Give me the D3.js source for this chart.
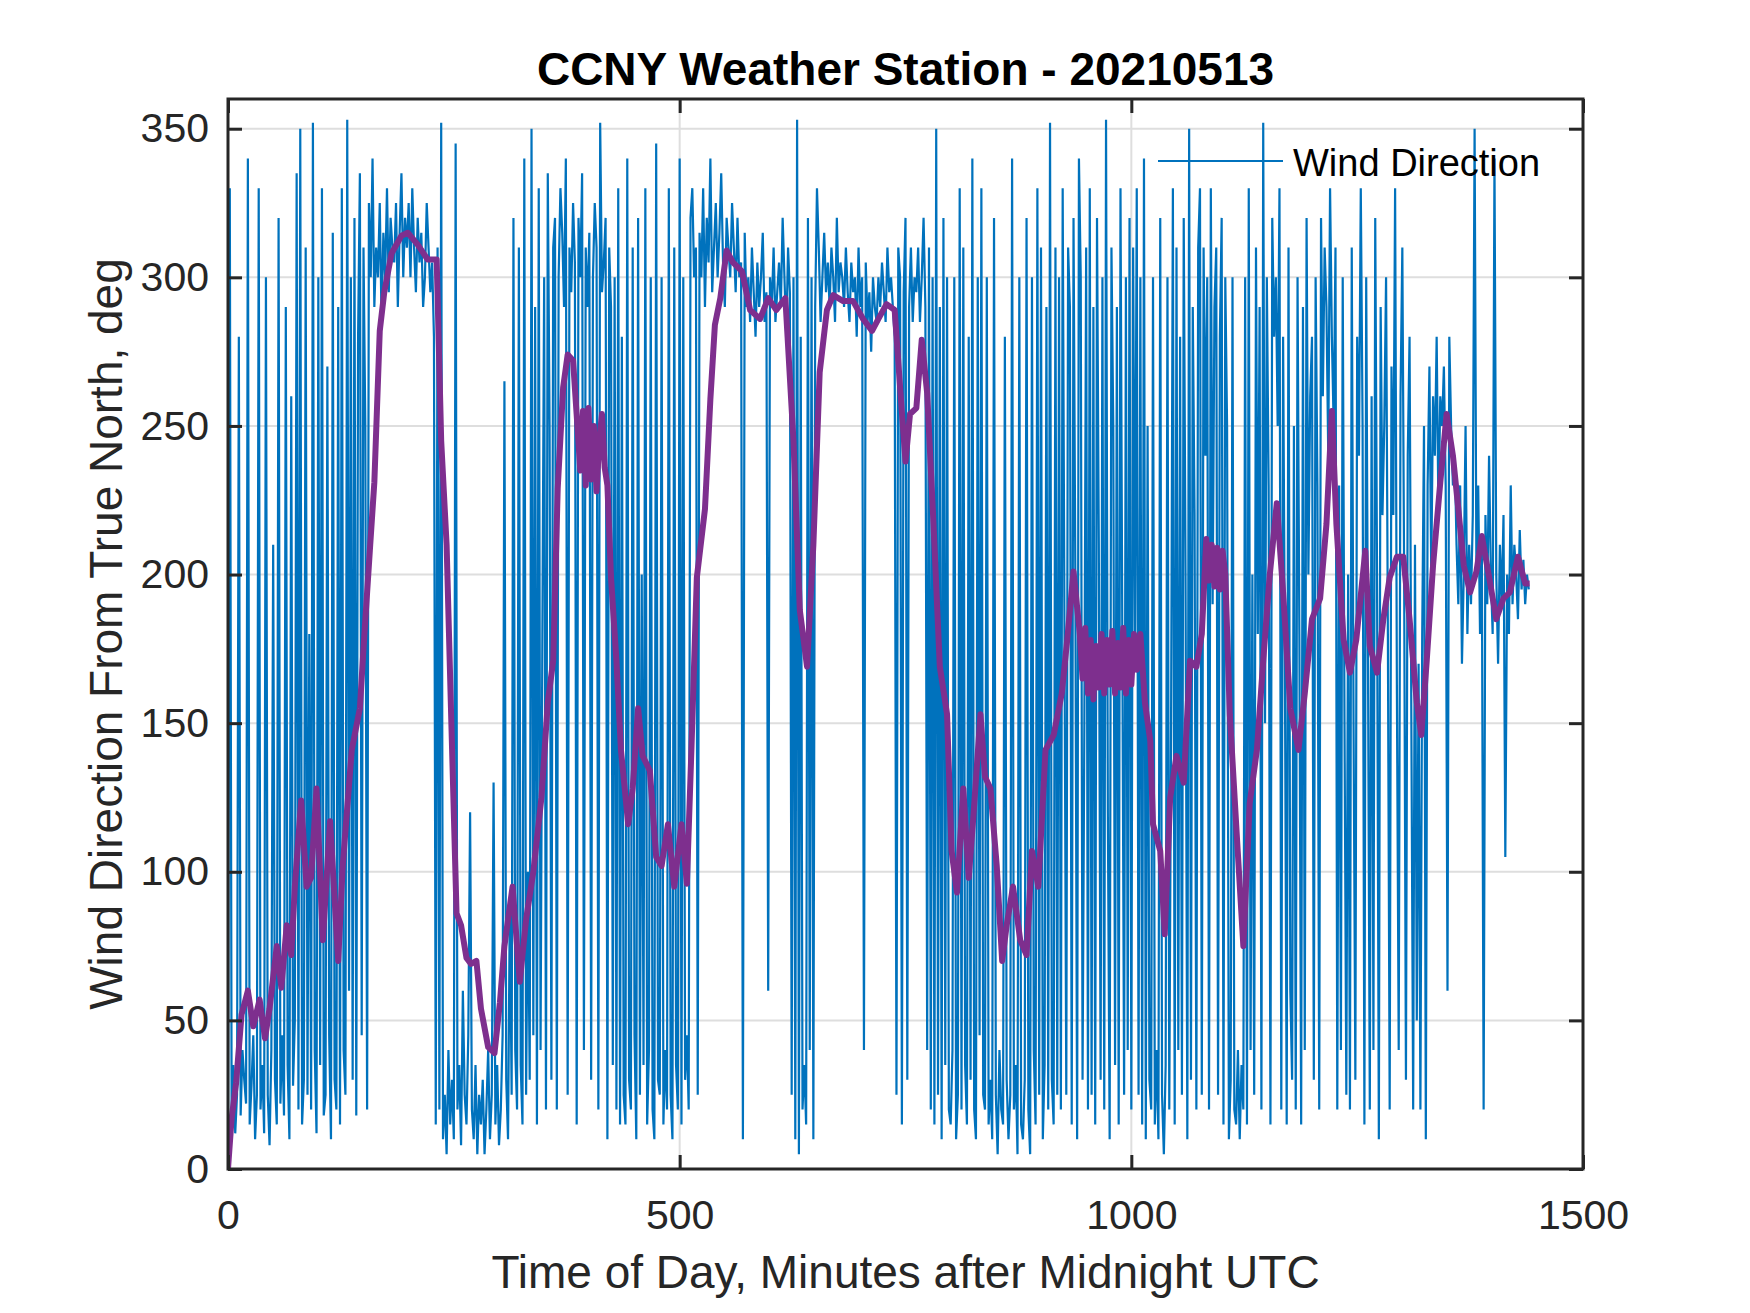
<!DOCTYPE html>
<html lang="en">

<head>
    <meta charset="UTF-8">
    <title>CCNY Weather Station - 20210513</title>
    <style>
        body { margin: 0; background: #fff; }
        text { font-family: "Liberation Sans", Arial, Helvetica, sans-serif; }
    </style>
</head>

<body>
    <script type='text/javascript' src='https://d3js.org/d3.v7.min.js'></script>
    <script>
        // wind direction, one reading every 2 minutes, 0..1440
        var minuteStep = 2;
        var windDir = [
            5, 330, 20, 35, 12, 25, 280, 18, 40, 30, 22, 340, 15, 28, 45, 10, 25, 330, 20, 35,
            12, 300, 25, 8, 40, 210, 30, 15, 320, 22, 45, 18, 290, 35, 10, 260, 28, 50, 335, 20,
            350, 15, 30, 310, 25, 180, 20, 352, 40, 12, 300, 35, 330, 18, 25, 270, 45, 10, 315, 30,
            20, 290, 15, 330, 40, 25, 353, 60, 300, 30, 320, 18, 280, 335, 45, 310, 250, 20, 325, 300,
            340, 290, 310, 300, 325, 285, 315, 300, 330, 295, 320, 310, 305, 325, 290, 315, 335, 300, 320, 310,
            325, 300, 330, 310, 295, 320, 305, 315, 290, 300, 325, 310, 295, 305, 280, 15, 310, 20, 352, 10,
            25, 5, 40, 15, 30, 10, 345, 20, 35, 8, 60, 25, 15, 45, 120, 20, 10, 35, 5, 25,
            15, 30, 5, 20, 40, 10, 25, 130, 15, 35, 8, 20, 45, 265, 30, 10, 90, 25, 320, 40,
            20, 310, 35, 15, 340, 25, 100, 30, 350, 45, 290, 15, 330, 40, 180, 300, 20, 335, 250, 30,
            310, 320, 20, 300, 330, 315, 290, 340, 25, 310, 295, 325, 305, 15, 320, 300, 335, 40, 310, 290,
            315, 30, 300, 325, 310, 20, 352, 295, 305, 320, 10, 310, 290, 35, 300, 20, 330, 15, 280, 25,
            15, 340, 30, 20, 310, 45, 10, 320, 25, 200, 35, 330, 15, 40, 300, 20, 10, 345, 30, 25,
            300, 15, 40, 20, 330, 25, 10, 310, 35, 20, 340, 15, 300, 30, 45, 20, 320, 330, 300, 310,
            25, 315, 300, 330, 290, 320, 305, 340, 295, 310, 325, 300, 315, 335, 305, 290, 320, 310, 300, 325,
            310, 295, 320, 300, 305, 10, 315, 290, 300, 285, 310, 295, 280, 305, 290, 300, 315, 285, 295, 60,
            300, 290, 310, 285, 295, 305, 290, 320, 300, 280, 310, 295, 25, 300, 10, 353, 5, 280, 20, 35,
            15, 320, 40, 300, 10, 290, 330, 310, 285, 300, 315, 295, 305, 290, 310, 300, 285, 320, 295, 305,
            300, 290, 310, 295, 285, 305, 295, 300, 280, 310, 290, 300, 40, 305, 285, 295, 275, 300, 290, 285,
            300, 290, 305, 295, 285, 310, 295, 300, 290, 280, 25, 310, 300, 15, 295, 320, 30, 290, 310, 285,
            300, 295, 310, 285, 300, 320, 290, 40, 310, 20, 300, 15, 350, 25, 290, 10, 320, 35, 300, 20,
            15, 40, 300, 10, 25, 330, 20, 310, 35, 15, 280, 30, 340, 20, 10, 300, 45, 330, 25, 20,
            300, 15, 30, 10, 320, 25, 5, 40, 20, 15, 280, 30, 10, 25, 340, 20, 35, 5, 300, 15,
            10, 30, 320, 20, 5, 300, 40, 15, 330, 25, 310, 10, 35, 290, 20, 352, 30, 15, 310, 25,
            300, 20, 330, 180, 25, 310, 290, 15, 320, 200, 10, 340, 300, 30, 150, 310, 20, 330, 25, 290,
            15, 320, 210, 30, 300, 20, 353, 120, 10, 310, 250, 35, 290, 15, 330, 180, 25, 300, 40, 320,
            20, 310, 180, 330, 25, 300, 15, 340, 10, 250, 30, 20, 300, 15, 40, 10, 320, 25, 5, 35,
            300, 20, 150, 330, 15, 310, 40, 280, 25, 320, 200, 10, 350, 30, 290, 220, 20, 310, 330, 25,
            310, 240, 300, 20, 330, 190, 290, 310, 25, 280, 320, 15, 300, 250, 10, 30, 300, 20, 15, 40,
            10, 35, 20, 300, 15, 330, 40, 200, 25, 310, 180, 290, 20, 352, 150, 300, 230, 15, 320, 280,
            300, 250, 330, 20, 280, 170, 15, 310, 60, 30, 250, 20, 300, 180, 15, 290, 40, 320, 200, 260,
            280, 30, 300, 230, 20, 320, 260, 310, 290, 240, 330, 280, 250, 310, 20, 230, 40, 300, 150, 25,
            200, 20, 310, 150, 30, 280, 240, 330, 250, 15, 300, 170, 20, 260, 40, 320, 200, 10, 290, 220,
            250, 300, 180, 20, 270, 220, 330, 160, 40, 260, 310, 200, 30, 240, 280, 150, 20, 210, 50, 170,
            20, 180, 250, 10, 230, 270, 200, 260, 240, 280, 220, 260, 250, 270, 230, 60, 280, 250, 230, 240,
            210, 190, 230, 170, 200, 250, 180, 210, 190, 220, 350, 200, 230, 180, 210, 20, 220, 190, 240, 200,
            180, 340, 200, 170, 210, 190, 220, 105, 200, 180, 230, 190, 210, 200, 185, 215, 195, 205, 190, 200,
            195
        ];
        // smoothed direction (purple)
        var avgMinutes = [0, 4, 9, 15, 22, 28, 35, 41, 46, 54, 59, 65, 70, 74, 81, 87, 92, 98, 105, 113, 122, 127, 137, 146, 151, 157, 162, 168, 173, 181, 192, 199, 210, 221, 231, 236, 242, 247, 253, 258, 264, 269, 275, 280, 288, 295, 301, 306, 315, 323, 330, 338, 347, 354, 360, 365, 371, 376, 382,
            387, 390, 393, 396, 399, 402, 405, 408, 411, 414, 417, 420,
            424, 430, 435, 443, 448, 454, 459, 467, 474, 480, 487, 494, 502, 508, 513, 519, 528, 534, 539, 545, 552, 559, 569, 578, 589, 598, 607, 617, 626, 633, 641, 648, 655, 663, 670, 681, 692, 703, 713, 720, 729, 738, 744, 750, 755, 762, 768, 774, 781, 788, 796, 801, 807, 814, 820, 825, 833, 838, 844, 851, 857, 862, 869, 877, 884, 890, 897, 905, 914, 923, 929, 936,
            943, 946, 949, 952, 955, 958, 961, 964, 967, 970, 973, 976, 979, 982, 985, 988, 991, 994, 997, 1000, 1003, 1006,
            1010, 1015, 1021, 1024, 1032, 1037, 1043, 1050, 1058, 1065, 1072, 1078,
            1083, 1086, 1089, 1092, 1095, 1098, 1101, 1104,
            1109, 1117, 1124, 1131, 1139, 1146, 1153, 1161, 1168, 1176, 1185, 1192, 1200, 1209, 1216, 1222, 1227, 1235, 1242, 1249, 1259, 1264, 1272, 1279, 1286, 1294, 1301, 1308, 1316, 1321, 1327, 1334, 1342, 1349, 1356, 1362, 1368, 1375, 1382, 1388, 1395, 1404, 1412, 1419, 1428, 1436, 1441];
        var avgDir = [0, 17, 29, 52, 60, 48, 57, 44, 54, 75, 61, 82, 72, 95, 124, 95, 98, 128, 77, 117, 70, 102, 141, 155, 180, 208, 231, 282, 295, 308, 314, 315, 311, 306, 306, 245, 210, 153, 86, 82, 71, 69, 70, 54, 41, 39, 56, 75, 95, 63, 84, 100, 125, 157, 171, 229, 263, 274, 272,
            249, 235, 255, 230, 256, 232, 250, 228, 245, 254, 236, 230,
            199, 171, 141, 116, 128, 155, 139, 134, 105, 102, 116, 95, 116, 96, 141, 199, 222, 259, 284, 293, 309, 305, 302, 289, 286, 293, 289, 293, 245, 188, 169, 210, 268, 289, 294, 292, 292, 286, 282, 286, 291, 289, 263, 238, 254, 256, 279, 261, 217, 169, 153, 107, 93, 128, 98, 118, 153, 132, 128, 102, 70, 82, 95, 77, 72, 107, 95, 141, 146, 160, 178, 201,
            180, 165, 182, 160, 178, 158, 176, 162, 180, 160, 178, 163, 181, 160, 177, 162, 182, 160, 178, 163, 180, 168,
            180, 157, 144, 116, 107, 79, 125, 139, 130, 171, 169, 180,
            212, 198, 210, 196, 209, 195, 208, 200,
            153, 111, 75, 123, 141, 171, 199, 224, 194, 155, 141, 160, 185, 192, 217, 255, 217, 178, 167, 178, 208, 176, 167, 185, 199, 206, 206, 185, 157, 146, 171, 203, 231, 254, 240, 222, 203, 194, 201, 213, 201, 185, 192, 194, 206, 197, 197];

        var xTicks = [0, 500, 1000, 1500];
        var yTicks = [0, 50, 100, 150, 200, 250, 300, 350];

        const width = 1750;
        const height = 1313;
        const plot = { left: 228, right: 1583, top: 99, bottom: 1169 };
        const ink = "#262626";

        const svg = d3.select("body")
            .append("svg")
            .attr("width", width)
            .attr("height", height);

        var x = d3.scaleLinear().domain([0, 1500]).range([plot.left, plot.right]);
        var y = d3.scaleLinear().domain([0, 360]).range([plot.bottom, plot.top]);

        svg.append("clipPath").attr("id", "clip")
            .append("rect")
            .attr("x", plot.left).attr("y", plot.top)
            .attr("width", plot.right - plot.left).attr("height", plot.bottom - plot.top);

        // grid
        var grid = svg.append("g");
        grid.selectAll(".gx").data(xTicks.slice(1, -1)).enter()
            .append("line")
            .attr("x1", d => x(d)).attr("x2", d => x(d))
            .attr("y1", plot.top).attr("y2", plot.bottom)
            .attr("stroke", "#dedede").attr("stroke-width", 2);
        grid.selectAll(".gy").data(yTicks.slice(1)).enter()
            .append("line")
            .attr("x1", plot.left).attr("x2", plot.right)
            .attr("y1", d => y(d)).attr("y2", d => y(d))
            .attr("stroke", "#dedede").attr("stroke-width", 2);

        // lines
        var rawLine = d3.line()
            .x(function(d, i) { return x(i * minuteStep); })
            .y(function(d) { return y(d); });
        svg.append("path")
            .datum(windDir)
            .attr("clip-path", "url(#clip)")
            .attr("fill", "none")
            .attr("stroke", "#0072BD")
            .attr("stroke-width", 2.2)
            .attr("d", rawLine);

        var avgLine = d3.line()
            .x(function(d, i) { return x(avgMinutes[i]); })
            .y(function(d) { return y(d); });
        svg.append("path")
            .datum(avgDir)
            .attr("clip-path", "url(#clip)")
            .attr("fill", "none")
            .attr("stroke", "#7E2F8E")
            .attr("stroke-width", 6)
            .attr("stroke-linejoin", "round")
            .attr("d", avgLine);

        // axes, ticks point inwards
        const tickLen = 14;
        svg.append("g")
            .attr("transform", "translate(0," + plot.bottom + ")")
            .call(d3.axisBottom(x).tickValues(xTicks).tickFormat(d3.format("d"))
                .tickSizeInner(-tickLen).tickSizeOuter(0).tickPadding(31));
        svg.append("g")
            .attr("transform", "translate(0," + plot.top + ")")
            .call(d3.axisTop(x).tickValues(xTicks).tickSizeInner(-tickLen).tickSizeOuter(0).tickFormat(""));
        svg.append("g")
            .attr("transform", "translate(" + plot.left + ",0)")
            .call(d3.axisLeft(y).tickValues(yTicks).tickFormat(d3.format("d"))
                .tickSizeInner(-tickLen).tickSizeOuter(0).tickPadding(19));
        svg.append("g")
            .attr("transform", "translate(" + plot.right + ",0)")
            .call(d3.axisRight(y).tickValues(yTicks).tickSizeInner(-tickLen).tickSizeOuter(0).tickFormat(""));

        svg.selectAll(".domain").remove();
        svg.selectAll(".tick line").attr("stroke", ink).attr("stroke-width", 3);
        svg.selectAll(".tick text")
            .attr("fill", ink)
            .style("font-size", "41px")
            .style("font-family", "'Liberation Sans', Arial, sans-serif");

        svg.append("rect")
            .attr("x", plot.left).attr("y", plot.top)
            .attr("width", plot.right - plot.left).attr("height", plot.bottom - plot.top)
            .attr("fill", "none")
            .attr("stroke", ink)
            .attr("stroke-width", 3);

        // legend (no box)
        svg.append("line")
            .attr("x1", 1158).attr("x2", 1283)
            .attr("y1", 161).attr("y2", 161)
            .attr("stroke", "#0072BD").attr("stroke-width", 2.2);
        svg.append("text")
            .attr("x", 1293).attr("y", 176)
            .attr("fill", "#000")
            .style("font-size", "38px")
            .text("Wind Direction");

        // labels
        svg.append("text")
            .attr("x", (plot.left + plot.right) / 2).attr("y", 85)
            .attr("text-anchor", "middle")
            .attr("fill", "#000")
            .style("font-size", "46px")
            .style("font-weight", "bold")
            .text("CCNY Weather Station - 20210513");
        svg.append("text")
            .attr("x", (plot.left + plot.right) / 2).attr("y", 1288)
            .attr("text-anchor", "middle")
            .attr("fill", ink)
            .style("font-size", "46px")
            .text("Time of Day, Minutes after Midnight UTC");
        svg.append("text")
            .attr("transform", "translate(122," + (plot.top + plot.bottom) / 2 + ") rotate(-90)")
            .attr("text-anchor", "middle")
            .attr("fill", ink)
            .style("font-size", "46px")
            .text("Wind Direction From True North, deg");
    </script>
</body>

</html>
